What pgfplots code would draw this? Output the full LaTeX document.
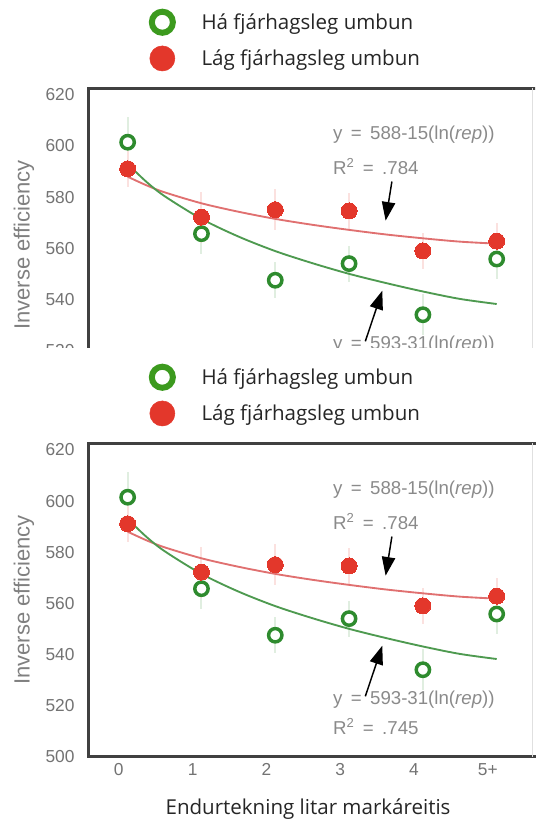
\documentclass[border=0pt]{standalone}
\usepackage{pgfplots}
\pgfplotsset{compat=1.18}
\usepackage{pgfplotstable}
\usepackage{fontspec}
\setmainfont{Open Sans}
\newfontfamily\hv{Liberation Sans}
\usetikzlibrary{arrows.meta}

\definecolor{mkG}{HTML}{2E8B2E}
\definecolor{lgG}{HTML}{3C9A1E}
\definecolor{mkR}{HTML}{E3372B}
\definecolor{lnG}{HTML}{4E9A50}
\definecolor{lnR}{HTML}{E07070}
\definecolor{txG}{HTML}{8A8A8A}
\definecolor{frm}{HTML}{404040}

\pgfplotstableread{
x y e
0.12 601.5 10
1.12 565.7 8
2.12 547.5 7
3.12 554.0 7
4.12 534.0 8
5.12 555.8 8
}\greenpts
\pgfplotstableread{
x y e
0.12 591.1 7
1.12 572.2 10
2.12 575.1 8
3.12 574.6 7
4.12 559.0 7
5.12 562.8 7
}\redpts
\pgfplotstableread{
x y
0.12 593.0
0.37 586.1
0.62 580.4
1.12 571.5
1.62 564.6
2.12 558.9
2.62 554.2
3.12 550.0
3.62 546.4
4.12 543.1
4.62 540.2
5.12 538.2
}\greenfit
\pgfplotstableread{
x y
0.12 588.0
0.37 584.7
0.62 581.9
1.12 577.6
1.62 574.3
2.12 571.5
2.62 569.2
3.12 567.2
3.62 565.4
4.12 563.9
4.62 562.6
5.12 561.8
}\redfit

\tikzset{annot/.style={anchor=west, inner sep=0pt, font=\hv\fontsize{14}{16}\selectfont, text=txG}}

\newcommand{\chart}[2]{%
\begin{axis}[
  anchor=south west,
  scale only axis, width=334.9pt, height=235.05pt,
  xmin=-0.41, xmax=5.64, ymin=500, ymax=622.6,
  axis line style={draw=none},
  major tick length=0pt,
  xtick={0,1,2,3,4,5}, xticklabels={0,1,2,3,4,5+},
  ytick={500,520,540,560,580,600,620},
  yticklabels={500,520,540,560,580,600,620},
  tick label style={font=\hv\fontsize{13}{15}\selectfont, text=black!55},
  yticklabel style={xshift=-7pt},
  xticklabel style={yshift=-1.3pt},
  ylabel={Inverse efficiency},
  ylabel style={font=\hv\fontsize{16.5}{19}\selectfont, text=black!50,
    at={(axis description cs:-0.1445,0.5)}, anchor=center},
  xlabel={Endurtekning litar markáreitis},
  xlabel style={font=\fontsize{15.4}{18}\selectfont, text=black!85,
    at={(axis description cs:0.4916,0)}, anchor=base, yshift=-43pt},
  legend style={draw=none, fill=none, inner sep=0pt, outer sep=0pt,
    at={(axis description cs:0.135,1.2538)}, anchor=north west,
    font=\fontsize{15.4}{18}\selectfont, text=black!85,
    nodes={inner sep=0pt, outer sep=0pt}, row sep=7pt},
  legend cell align=left,
  clip=false,
  #1]
\addplot[forget plot, draw=none, mark=none, error bars/.cd, y dir=both, y explicit,
  error mark=none, error bar style={draw=mkG!15, line width=1.5pt}]
  table[x=x, y=y, y error=e] {\greenpts};
\addplot[forget plot, draw=none, mark=none, error bars/.cd, y dir=both, y explicit,
  error mark=none, error bar style={draw=mkR!15, line width=1.5pt}]
  table[x=x, y=y, y error=e] {\redpts};
\addplot[forget plot, lnR, line width=1.4pt, mark=none, smooth] table[x=x, y=y] {\redfit};
\addplot[forget plot, only marks, mark=*, mark size=5pt,
  mark options={draw=mkG, fill=white, line width=2.6pt}]
  table[x=x, y=y] {\greenpts};
\addplot[forget plot, only marks, mark=*, mark size=6pt,
  mark options={draw=mkR, fill=mkR, line width=0pt}]
  table[x=x, y=y] {\redpts};
\addplot[forget plot, lnG, line width=1.4pt, mark=none, smooth] table[x=x, y=y] {\greenfit};
\addlegendimage{legend image code/.code={
  \draw[lgG, line width=4.5pt] (0pt,0pt) circle[radius=7.9pt];
  \path[draw=none, fill=none] (-10.1pt,-10pt) rectangle (29.4pt,10pt);}}
\addlegendentry{Há fjárhagsleg umbun}
\addlegendimage{legend image code/.code={
  \fill[mkR] (0pt,0pt) circle[radius=9.4pt];
  \path[draw=none, fill=none] (-10.1pt,-10pt) rectangle (29.4pt,10pt);}}
\addlegendentry{Lág fjárhagsleg umbun}
% frame
\draw[frm, line width=2.6pt, line join=miter]
  (rel axis cs:1.02,1) -- (rel axis cs:0,1) -- (rel axis cs:0,0) -- (rel axis cs:1.02,0);
\draw[black!12, line width=0.8pt] (axis cs:5.61,500) -- (axis cs:5.61,622.6);
% annotations
\node[annot] at (axis cs:2.90,604.4) {y\hspace{0.45em}=\hspace{0.45em}588-15(ln(\textit{rep}))};
\node[annot] at (axis cs:2.90,591.9) {R\textsuperscript{2}\hspace{0.45em}=\hspace{0.45em}.784};
\node[annot] at (axis cs:2.90,522.3) {y\hspace{0.45em}=\hspace{0.45em}593-31(ln(\textit{rep}))};
#2
\draw[black, line width=1.1pt, -{Triangle[length=14pt,width=10pt]}]
  (axis cs:3.70,586.1) -- (axis cs:3.615,570.8);
\draw[black, line width=1.1pt, -{Triangle[length=14pt,width=10pt]}]
  (axis cs:3.34,523.6) -- (axis cs:3.57,543.4);
\end{axis}}

\begin{document}
\begin{tikzpicture}
\useasboundingbox (-66.4pt,-47.5pt) rectangle (334.9pt,567.5pt);
\begin{scope}
\clip (-66.4pt,306.5pt) rectangle (334.9pt,567.5pt);
\chart{at={(0pt,266.25pt)}, xticklabels={}, xlabel={}}{}
\end{scope}
\chart{at={(0pt,0pt)}}{\node[annot] at (axis cs:2.90,511.7) {R\textsuperscript{2}\hspace{0.45em}=\hspace{0.45em}.745};}
\end{tikzpicture}
\end{document}
